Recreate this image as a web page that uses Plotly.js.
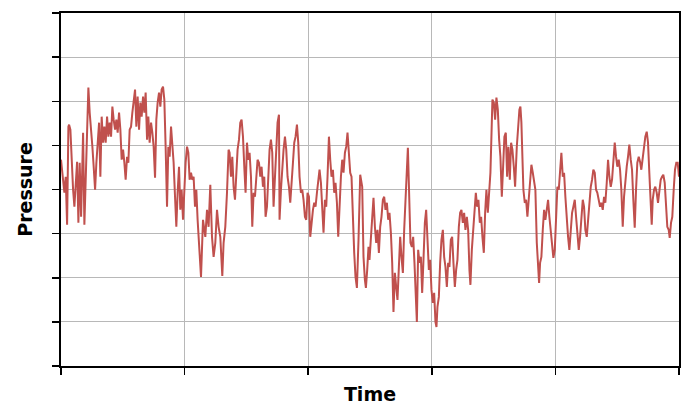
<!DOCTYPE html>
<html>
<head>
<meta charset="utf-8">
<script src="https://cdn.plot.ly/plotly-3.0.1.min.js"></script>
<style>
  html, body { margin: 0; padding: 0; background: #ffffff; }
  #chart { width: 698px; height: 419px; }
</style>
</head>
<body>
<div id="chart"></div>
<script>
// Time (arbitrary units; one grid interval = 123.68)
var time = [
  0, 2.1, 3.4, 4.7, 6.1, 7.4, 8.1, 9.4, 10.7, 12.1, 13.4, 14.7, 16.1, 17.4, 18.7, 20.1, 21.4, 22.1, 23.4, 24.7,
  26.1, 27.4, 28.7, 30.1, 31.4, 32.7, 34.1, 35.4, 36.7, 38.1, 39.4, 40.7, 42.1, 43.4, 44.7, 46.1, 47.4, 48.7, 50.1, 51.4,
  52.7, 54.1, 55.4, 56.7, 58.1, 59.4, 60.7, 62.1, 63.4, 64.7, 66.1, 67.4, 68.7, 70.1, 71.4, 72.7, 74.1, 75.4, 76.7, 78.1,
  79.4, 80.7, 82.1, 83.4, 84.7, 86.1, 87.4, 88.7, 90.1, 91.4, 92.7, 94.1, 95.4, 96.7, 98.1, 99.4, 100.7, 102.1, 103.4, 104.7,
  106.1, 107.4, 108.7, 110.1, 111.4, 112.7, 114.1, 115.4, 116.7, 118.1, 119.4, 120.7, 122.1, 123.4, 124.7, 126.1, 127.4, 128.7, 130.1, 131.4,
  132.7, 134.1, 135.4, 136.7, 138.1, 139.4,
  140.1, 142.1, 144.4, 146.1, 147.7, 149.4, 151.1, 152.7, 154.4, 156.1, 157.7, 159.4, 161.4, 162.7, 164.4, 166.1, 167.7,
  168.7, 170.1, 171.4, 172.7, 174.1, 175.4, 176.7, 178.1, 179.4, 180.7, 182.1, 183.4, 184.7, 186.1, 187.4, 188.7, 190.1, 191.4, 192.7, 194.1,
  195.4, 196.7, 198.1, 199.4, 200.7, 202.1, 203.4, 204.7, 206.1, 207.4, 208.7, 210.1, 211.4, 212.7, 214.1, 215.4, 216.7, 218.1, 218.7, 220.1,
  221.4, 222.7, 224.1, 225.4, 226.7, 228.1, 229.4, 230.7, 232.1, 233.4, 234.7, 236.1, 237.4, 238.7, 240.1, 241.4, 242.7, 244.1, 245.4, 246.7,
  248.1, 249.4, 250.7, 252.1, 253.4, 254.7, 256.1, 257.4, 258.7, 260.1, 261.4, 262.7, 264.1, 265.4, 266.7, 268.1, 269.4, 270.7, 272.1, 273.4,
  274.7, 276.1, 277.4, 278.7, 280.1, 281.4, 282.7, 284.1, 285.4, 286.7, 288.1, 289.4, 290.7, 292.1, 293.4, 294.7, 296.1, 297.7, 299.4,
  301.4, 302.7, 304.1, 305.1, 306.4, 307.7, 308.7, 310.1, 311.4, 312.7, 314.1, 315.4, 316.7, 318.1, 319.4, 320.7, 322.1, 323.4, 324.7, 326.1,
  327.4, 328.7, 330.1, 331.4, 332.7, 334.1, 335.4, 336.7, 338.1, 339.4, 340.7, 342.1, 343.4, 344.7, 346.1, 347.1, 348.4, 349.7, 351.1, 352.4,
  353.7, 355.1, 356.1, 357.4, 358.7, 360.1, 361.4, 362.7, 364.1, 365.4, 366.7, 368.1, 369.4, 370.7, 372.1, 373.4, 374.7, 375.7, 376.7, 378.1,
  379.4, 380.7, 382.1, 383.4, 384.7, 386.1, 387.4, 388.7, 390.1, 391.4, 392.7, 394.1, 395.4, 396.7, 398.1, 399.4, 400.7, 402.1, 403.4, 404.7,
  406.1, 407.4, 408.7, 409.7, 411.1, 412.4, 413.7, 415.1, 416.4, 417.7, 419.1, 420.4, 421.7, 423.1, 424.4, 425.7, 427.1, 428.4, 429.7, 430.7,
  431.7, 433.1, 434.4, 435.7, 437.1, 438.4, 439.7, 441.1, 442.4, 443.7, 445.1, 446.4, 447.7, 449.1, 450.4, 451.7, 453.1, 454.4,
  456.1, 457.4, 458.7, 459.7, 460.7, 461.7, 462.7, 464.1, 465.4, 466.7, 468.1, 469.4, 470.7, 472.1, 473.4, 474.7, 476.1, 477.4, 478.4, 479.4,
  480.7, 482.1, 483.4, 484.7, 486.1, 487.4, 488.7, 490.1, 491.4, 492.7, 494.1, 495.4, 496.7, 498.1, 499.4, 500.7, 502.1, 503.4, 504.7, 506.1,
  507.4, 508.7, 510.1, 511.4, 512.7, 514.1, 515.4, 516.7, 518.1, 519.4, 520.7, 522.1, 523.4, 524.7, 526.1, 527.4, 528.7, 530.1, 531.4, 532.7,
  534.1, 535.4, 536.7, 538.1, 539.4, 540.7, 542.1, 543.4, 544.7, 546.1, 547.4, 548.7, 550.1, 551.4, 552.7, 554.1, 555.4, 556.7, 558.1, 559.4,
  560.7, 562.1, 563.4, 564.7, 566.1, 567.4, 568.7, 570.1, 571.4, 572.7, 574.1, 575.4, 576.7, 578.1, 579.4, 580.7, 582.1, 583.4, 584.7, 586.1,
  587.4, 588.7, 590.1, 591.1, 592.1, 593.4, 594.7, 596.1, 597.4, 598.7, 600.1, 601.4, 602.7, 604.1, 605.4, 606.7, 608.1, 609.1, 610.4, 611.7,
  613.1, 614.4, 615.7, 617.1, 618.4
];

// Pressure (arbitrary units; one grid interval = 44.06)
var pressure = [
  206, 186, 173, 189, 141, 239, 241, 236, 199, 176, 159, 186, 204, 143, 203, 149, 199, 233, 141, 186,
  233, 278, 253, 239, 219, 199, 176, 203, 226, 243, 189, 249, 223, 239, 223, 249, 229, 243, 229, 259,
  246, 236, 246, 233, 253, 236, 206, 216, 203, 186, 209, 203, 236, 239, 253, 266, 276, 239, 269, 236,
  263, 249, 269, 253, 273, 226, 249, 223, 243, 233, 219, 188, 246, 263, 273, 259, 276, 279, 266, 219,
  159, 219, 209, 239, 219, 203, 169, 139, 173, 199, 156, 176, 146, 176, 203, 219, 213, 186, 193, 186,
  189, 159, 176, 146, 126, 106,
  89, 146, 129, 156, 139, 181, 129, 109, 123, 156, 139, 129, 90, 123, 139, 173, 216,
  213, 189, 209, 179, 166, 189, 216, 226, 243, 246, 229, 199, 173, 223, 206, 213, 189, 139, 173, 169,
  189, 206, 203, 189, 199, 179, 189, 149, 159, 189, 216, 226, 213, 159, 193, 209, 243, 251, 146, 176,
  199, 216, 229, 216, 189, 179, 163, 189, 203, 223, 229, 241, 223, 189, 173, 176, 166, 149, 146, 173,
  169, 129, 146, 156, 163, 159, 173, 189, 196, 183, 159, 133, 166, 159, 189, 229, 206, 189, 196, 173,
  183, 163, 129, 163, 189, 206, 193, 213, 219, 233, 209, 193, 189, 139, 113, 89, 78, 126, 191,
  179, 109, 86, 78, 96, 119, 106, 129, 153, 168, 139, 123, 136, 113, 139, 149, 166, 169, 156, 163,
  146, 153, 133, 103, 54, 93, 79, 66, 99, 129, 109, 93, 136, 173, 196, 218, 169, 123, 119, 129,
  103, 76, 44, 116, 103, 109, 73, 106, 143, 156, 123, 96, 106, 76, 63, 73, 44, 39, 59, 69,
  103, 126, 136, 109, 99, 79, 103, 99, 126, 129, 103, 79, 96, 106, 139, 153, 156, 143, 153, 136,
  149, 136, 96, 81, 116, 136, 153, 173, 159, 166, 143, 149, 129, 113, 153, 176, 153, 173, 193, 229,
  266, 263, 246, 268, 256, 226, 209, 169, 196, 229, 233, 189, 219, 186, 223, 216, 199, 179,
  219, 243, 256, 259, 243, 209, 176, 163, 166, 149, 169, 193, 201, 193, 183, 176, 123, 103, 83, 103,
  109, 136, 156, 146, 159, 166, 149, 136, 119, 108, 116, 146, 179, 176, 199, 213, 189, 193, 169, 143,
  129, 116, 136, 153, 159, 166, 149, 136, 116, 129, 149, 166, 159, 136, 129, 149, 169, 179, 186, 196,
  193, 176, 173, 166, 159, 163, 156, 169, 163, 183, 206, 189, 179, 186, 209, 223, 209, 199, 206, 196,
  176, 139, 169, 186, 199, 209, 221, 206, 196, 166, 138, 176, 203, 209, 204, 196, 208, 219, 229, 234,
  223, 193, 159, 141, 166, 176, 179, 173, 163, 176, 186, 189, 191, 183, 156, 139, 136, 128, 143, 149,
  176, 196, 203, 203, 189
];

var xTitle = "Time";
var yTitle = "Pressure";

var trace = {
  x: time,
  y: pressure,
  type: "scatter",
  mode: "lines",
  line: { color: "#C0504D", width: 2 },
  hoverinfo: "skip"
};

var axisCommon = {
  showgrid: true,
  gridcolor: "#b8b8b8",
  gridwidth: 1,
  zeroline: false,
  showline: true,
  linecolor: "#000000",
  linewidth: 2,
  mirror: true,
  ticks: "outside",
  ticklen: 7,
  tickwidth: 1.5,
  tickcolor: "#000000",
  showticklabels: false,
  fixedrange: true
};

var layout = {
  width: 698,
  height: 419,
  margin: { l: 61, r: 19, t: 13, b: 53, pad: 0 },
  paper_bgcolor: "#ffffff",
  plot_bgcolor: "#ffffff",
  showlegend: false,
  xaxis: Object.assign({}, axisCommon, {
    range: [0, 618.4],
    tick0: 0,
    dtick: 123.68,
    title: { text: xTitle, font: { family: "DejaVu Sans", size: 19, color: "#000000", weight: "bold" }, standoff: 14 }
  }),
  yaxis: Object.assign({}, axisCommon, {
    range: [0, 352.5],
    tick0: 0,
    dtick: 44.0625,
    title: { text: yTitle, font: { family: "DejaVu Sans", size: 19, color: "#000000", weight: "bold" }, standoff: 14 }
  })
};

Plotly.newPlot("chart", [trace], layout, { displayModeBar: false, staticPlot: true });
</script>
</body>
</html>
